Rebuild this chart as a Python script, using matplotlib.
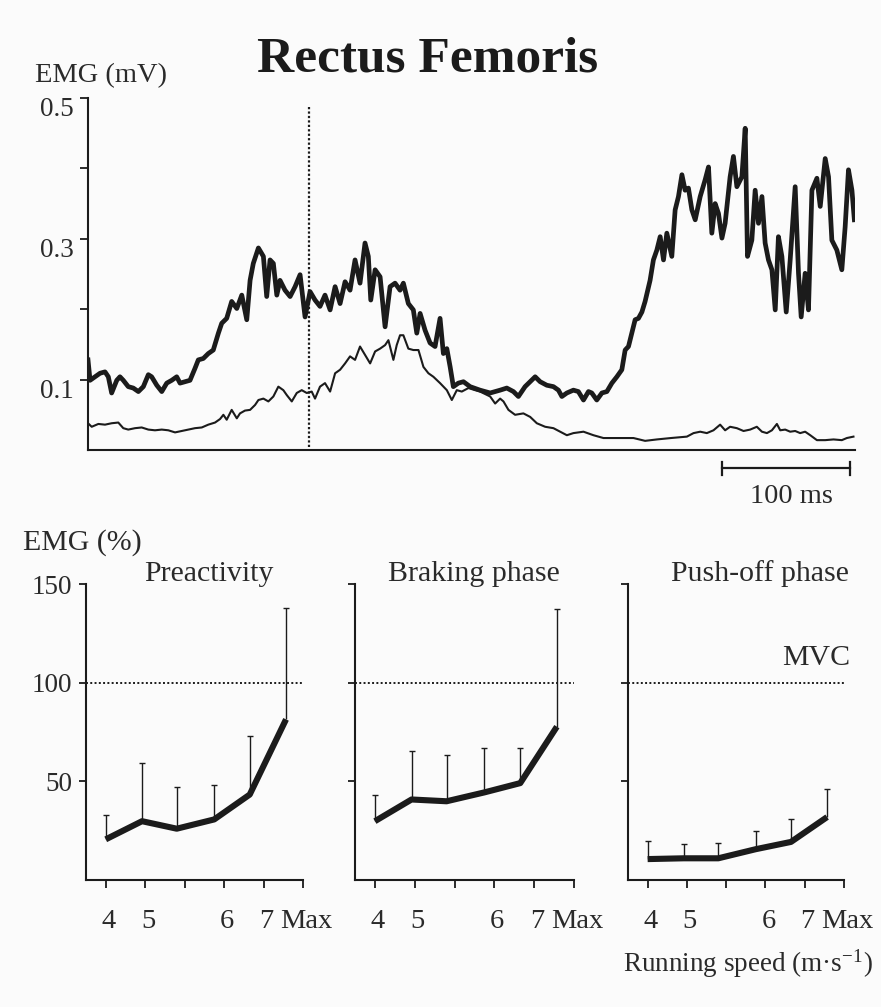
import matplotlib
matplotlib.use("Agg")
import matplotlib.pyplot as plt
import matplotlib.transforms as mtransforms
import numpy as np

plt.rcParams['font.family'] = ['Liberation Serif', 'DejaVu Serif']
plt.rcParams['mathtext.fontset'] = 'stix'

INK = '#1b1b1b'
BG = '#fbfbfb'
TXT = '#2a2a2a'

# ---------------- top panel data (time in ms, EMG in mV) ----------------
thick_t = [0, 1.6, 5.5, 9.4, 13.3, 15.9, 18.5, 22.5, 25.0, 27.6, 31.5, 35.4, 39.4, 43.3, 47.2,
           49.8, 53.8, 57.7, 61.6, 65.5, 69.4, 72.0, 75.9, 79.8, 83.7, 86.3, 90.2, 94.1, 98.0,
           102.0, 104.6, 108.5, 112.4, 116.4, 120.3, 124.2, 126.8, 129.3, 133.3, 137.2, 139.8,
           142.4, 145.0, 147.7, 150.2, 154.1, 158.1, 162.0, 165.9, 169.8, 173.7, 177.6, 181.5,
           185.4, 189.4, 193.3, 197.2, 201.1, 205.0, 208.9, 212.8, 216.7, 219.3, 221.2, 224.6,
           228.5, 232.4, 236.3, 240.2, 244.1, 246.7, 250.6, 254.5, 257.2, 259.8, 263.7, 267.6,
           271.5, 275.4, 278.0, 280.7, 283.3, 285.8, 289.7, 293.7, 298.9, 306.7, 314.6, 322.4,
           327.6, 332.8, 336.7, 341.9, 345.9, 349.8, 353.7, 358.9, 364.1, 368.0, 370.7, 374.6,
           379.7, 383.6, 387.6, 391.5, 394.1, 398.0, 402.0, 405.9, 409.8, 413.7, 417.6, 420.2,
           422.8, 425.4, 428.0, 430.6, 433.3, 435.8, 439.7, 442.3, 445.0, 447.6, 450.2, 452.8,
           456.7, 459.3, 461.9, 464.6, 467.1, 469.7, 472.4, 475.0, 478.9, 482.8, 485.4, 488.0,
           490.6, 493.2, 495.9, 498.4, 502.3, 504.9, 507.6, 511.5, 514.1, 515.9, 519.3, 521.9,
           524.5, 527.2, 529.7, 532.3, 535.0, 537.6, 540.1, 542.8, 546.2, 549.3, 553.2, 555.8,
           557.9, 561.0, 563.6, 566.3, 570.2, 572.8, 576.7, 579.3, 581.9, 585.8, 589.7, 592.3,
           594.9, 597.6, 599.5]
thick_v = [0.128, 0.099, 0.104, 0.109, 0.111, 0.104, 0.081, 0.099, 0.104, 0.099, 0.090, 0.088,
           0.083, 0.090, 0.107, 0.104, 0.092, 0.083, 0.095, 0.099, 0.104, 0.095, 0.097, 0.099,
           0.116, 0.128, 0.130, 0.137, 0.142, 0.166, 0.180, 0.187, 0.211, 0.201, 0.220, 0.185,
           0.241, 0.265, 0.287, 0.275, 0.218, 0.270, 0.265, 0.220, 0.241, 0.227, 0.218, 0.232,
           0.249, 0.189, 0.225, 0.213, 0.204, 0.220, 0.199, 0.232, 0.208, 0.239, 0.227, 0.270,
           0.237, 0.294, 0.275, 0.213, 0.256, 0.246, 0.175, 0.232, 0.237, 0.227, 0.237, 0.208,
           0.199, 0.166, 0.194, 0.170, 0.152, 0.147, 0.187, 0.137, 0.144, 0.118, 0.090, 0.095,
           0.097, 0.090, 0.085, 0.081, 0.085, 0.088, 0.083, 0.076, 0.090, 0.097, 0.104, 0.097,
           0.092, 0.090, 0.085, 0.076, 0.081, 0.085, 0.083, 0.071, 0.083, 0.081, 0.071, 0.081,
           0.083, 0.095, 0.104, 0.114, 0.142, 0.147, 0.166, 0.185, 0.187, 0.196, 0.211, 0.241,
           0.270, 0.284, 0.303, 0.270, 0.308, 0.275, 0.341, 0.360, 0.391, 0.369, 0.372, 0.341,
           0.327, 0.360, 0.384, 0.402, 0.308, 0.350, 0.336, 0.301, 0.322, 0.388, 0.417, 0.374,
           0.388, 0.457, 0.275, 0.298, 0.369, 0.322, 0.360, 0.294, 0.270, 0.256, 0.199, 0.303,
           0.275, 0.196, 0.270, 0.374, 0.251, 0.189, 0.251, 0.199, 0.369, 0.386, 0.346, 0.414,
           0.388, 0.298, 0.284, 0.256, 0.317, 0.398, 0.369, 0.327]

thin_t = [0, 2.9, 8.1, 13.3, 18.5, 23.7, 27.6, 31.5, 36.8, 42.0, 47.2, 52.4, 57.7, 62.8, 68.1,
          73.3, 78.5, 83.7, 89.0, 94.1, 99.4, 103.3, 105.9, 108.5, 112.4, 116.4, 118.9, 122.8,
          126.8, 130.7, 133.3, 137.2, 141.1, 145.0, 148.9, 152.8, 155.5, 159.4, 163.3, 167.2,
          171.1, 175.0, 177.6, 181.5, 185.4, 189.4, 193.3, 197.2, 201.1, 205.0, 208.9, 212.8,
          216.7, 220.7, 224.6, 228.5, 232.4, 235.0, 238.9, 241.5, 244.1, 246.7, 250.6, 254.5,
          258.5, 262.4, 266.3, 270.2, 275.4, 280.7, 284.6, 288.5, 292.4, 297.6, 302.8, 306.7,
          314.6, 318.5, 322.4, 325.0, 328.9, 334.1, 340.6, 345.9, 351.1, 357.6, 364.1, 369.3,
          374.6, 379.7, 387.6, 395.4, 403.2, 411.0, 418.9, 426.7, 435.8, 445.0, 456.0, 468.5,
          473.7, 478.9, 484.1, 489.3, 494.5, 498.4, 502.3, 507.6, 512.8, 518.0, 523.2, 527.2,
          531.1, 535.0, 538.9, 541.5, 545.4, 549.3, 553.2, 557.1, 561.0, 565.0, 570.2, 576.7,
          583.2, 589.7, 593.6, 598.8]
thin_v = [0.038, 0.033, 0.037, 0.036, 0.038, 0.039, 0.031, 0.029, 0.031, 0.032, 0.029, 0.028,
          0.029, 0.028, 0.025, 0.027, 0.029, 0.031, 0.032, 0.036, 0.039, 0.044, 0.050, 0.043,
          0.057, 0.045, 0.052, 0.056, 0.057, 0.064, 0.071, 0.073, 0.069, 0.076, 0.090, 0.085,
          0.078, 0.069, 0.081, 0.085, 0.081, 0.083, 0.073, 0.090, 0.095, 0.083, 0.109, 0.114,
          0.123, 0.133, 0.128, 0.147, 0.135, 0.123, 0.140, 0.144, 0.149, 0.156, 0.128, 0.149,
          0.163, 0.163, 0.144, 0.142, 0.142, 0.118, 0.109, 0.104, 0.095, 0.085, 0.071, 0.085,
          0.083, 0.088, 0.085, 0.083, 0.076, 0.066, 0.073, 0.069, 0.057, 0.050, 0.052, 0.047,
          0.038, 0.033, 0.031, 0.026, 0.021, 0.024, 0.026, 0.021, 0.017, 0.017, 0.017, 0.017,
          0.013, 0.015, 0.017, 0.019, 0.024, 0.026, 0.024, 0.028, 0.036, 0.028, 0.033, 0.031,
          0.027, 0.029, 0.033, 0.026, 0.024, 0.028, 0.037, 0.028, 0.029, 0.026, 0.027, 0.024,
          0.026, 0.021, 0.014, 0.014, 0.015, 0.014, 0.017, 0.019]

contact_t = 173          # dotted vertical marker (ms)
scale_bar = [496, 596]   # 100 ms scale bar

# ---------------- bottom panels data ----------------
speed_pos = [0, 0.92, 1.8, 2.75, 3.65, 4.57]
tick_pos = [0, 1, 2, 3, 4, 5]
tick_labels = ['4', '5', '', '6', '7', 'Max']

panel_titles = ['Preactivity', 'Braking phase', 'Push-off phase']
pre_mean = [20.6, 29.8, 26.0, 30.7, 43.3, 81.4]
pre_sd = [12.1, 29.4, 21.2, 17.3, 29.8, 56.3]
brake_mean = [29.8, 40.8, 39.9, 44.4, 49.1, 77.7]
brake_sd = [13.2, 24.6, 23.3, 22.7, 17.9, 59.5]
push_mean = [10.6, 11.0, 11.0, 15.6, 19.3, 31.9]
push_sd = [9.2, 7.4, 7.9, 9.2, 11.7, 14.2]
mvc_level = 100

W, H = 881, 1007
fig = plt.figure(figsize=(W / 100, H / 100), dpi=100, facecolor=BG)

def style_axes(ax):
    ax.set_facecolor(BG)
    for s in ['top', 'right']:
        ax.spines[s].set_visible(False)
    for s in ['left', 'bottom']:
        ax.spines[s].set_linewidth(1.5)
        ax.spines[s].set_color(INK)
    ax.tick_params(colors=INK, width=1.3, direction='out')

# ---------------- top panel ----------------
ax = fig.add_axes([88 / W, 1 - 450 / H, 767 / W, 352 / H])
style_axes(ax)
ax.plot(thin_t, thin_v, color=INK, lw=1.5, solid_joinstyle='round')
ax.plot(thick_t, thick_v, color=INK, lw=3.4, solid_joinstyle='round')
ax.plot([contact_t, contact_t], [0.004, 0.487], color=INK, lw=1.6, linestyle=(0, (1, 1)))
ax.set_xlim(0, 600)
ax.set_ylim(0, 0.5)
ax.set_xticks([])
ax.set_yticks([0.1, 0.2, 0.3, 0.4, 0.5])
ax.set_yticklabels(['0.1', '', '0.3', '', '0.5'], fontsize=19.5, color=TXT)
ax.tick_params(axis='y', length=6, pad=4)
off = mtransforms.ScaledTranslation(0, -9 / 100, fig.dpi_scale_trans)
for lab in ax.get_yticklabels():
    lab.set_transform(lab.get_transform() + off)
# scale bar
ax.plot(scale_bar, [-0.026, -0.026], color=INK, lw=1.6, clip_on=False)
for sx in scale_bar:
    ax.plot([sx, sx], [-0.035, -0.017], color=INK, lw=1.6, clip_on=False)
fig.text(791 / W, 1 - 497 / H, '100 ms', ha='center', va='center', fontsize=20.5, color=TXT)
fig.text(35 / W, 1 - 76 / H, 'EMG (mV)', ha='left', va='center', fontsize=20.5, color=TXT)
fig.text(428 / W, 1 - 60 / H, 'Rectus Femoris', ha='center', va='center', fontsize=37,
         fontweight='bold', color=INK)

# ---------------- bottom panels ----------------
lefts = [86, 355, 628]
widths = [217, 219, 216]
means = [pre_mean, brake_mean, push_mean]
sds = [pre_sd, brake_sd, push_sd]
title_x = [209, 474, 760]
for i in range(3):
    bx = fig.add_axes([lefts[i] / W, 1 - 880 / H, widths[i] / W, 296 / H])
    style_axes(bx)
    m = np.array(means[i])
    top = m + np.array(sds[i])
    bx.axhline(mvc_level, color=INK, lw=1.4, linestyle=(0, (1, 1.2)))
    bx.vlines(speed_pos, m, top, color=INK, lw=1.0)
    bx.plot(speed_pos, top, linestyle='none', marker='_', markersize=5, mew=1.0, color=INK)
    bx.plot(speed_pos, m, color=INK, lw=4.4, solid_joinstyle='round', solid_capstyle='butt')
    bx.set_xlim(-0.5, 5)
    bx.set_ylim(0, 150)
    bx.set_xticks(tick_pos)
    bx.set_xticklabels(tick_labels, fontsize=20.5, color=TXT)
    bx.set_yticks([50, 100, 150])
    if i == 0:
        bx.set_yticklabels(['50', '100', '150'], fontsize=19.5, color=TXT)
        off2 = mtransforms.ScaledTranslation(0, -5 / 100, fig.dpi_scale_trans)
        for lab in bx.get_yticklabels():
            lab.set_transform(lab.get_transform() + off2)
    else:
        bx.set_yticklabels([])
    bx.tick_params(axis='y', length=5, pad=5)
    bx.tick_params(axis='x', length=6, pad=15)
    offx = mtransforms.ScaledTranslation(3 / 100, 0, fig.dpi_scale_trans)
    for lab in bx.get_xticklabels():
        lab.set_transform(lab.get_transform() + offx)
    fig.text(title_x[i] / W, 1 - 574 / H, panel_titles[i], ha='center', va='center',
             fontsize=21.5, color=TXT)

fig.text(850 / W, 1 - 658 / H, 'MVC', ha='right', va='center', fontsize=21.5, color=TXT)
fig.text(23 / W, 1 - 543 / H, 'EMG (%)', ha='left', va='center', fontsize=21.5, color=TXT)
fig.text(748 / W, 1 - 963 / H, 'Running speed (m·s$^{\\mathregular{-1}}$)', ha='center',
         va='center', fontsize=19.5, color=TXT)

fig.savefig('out.png', dpi=100, facecolor=BG)
